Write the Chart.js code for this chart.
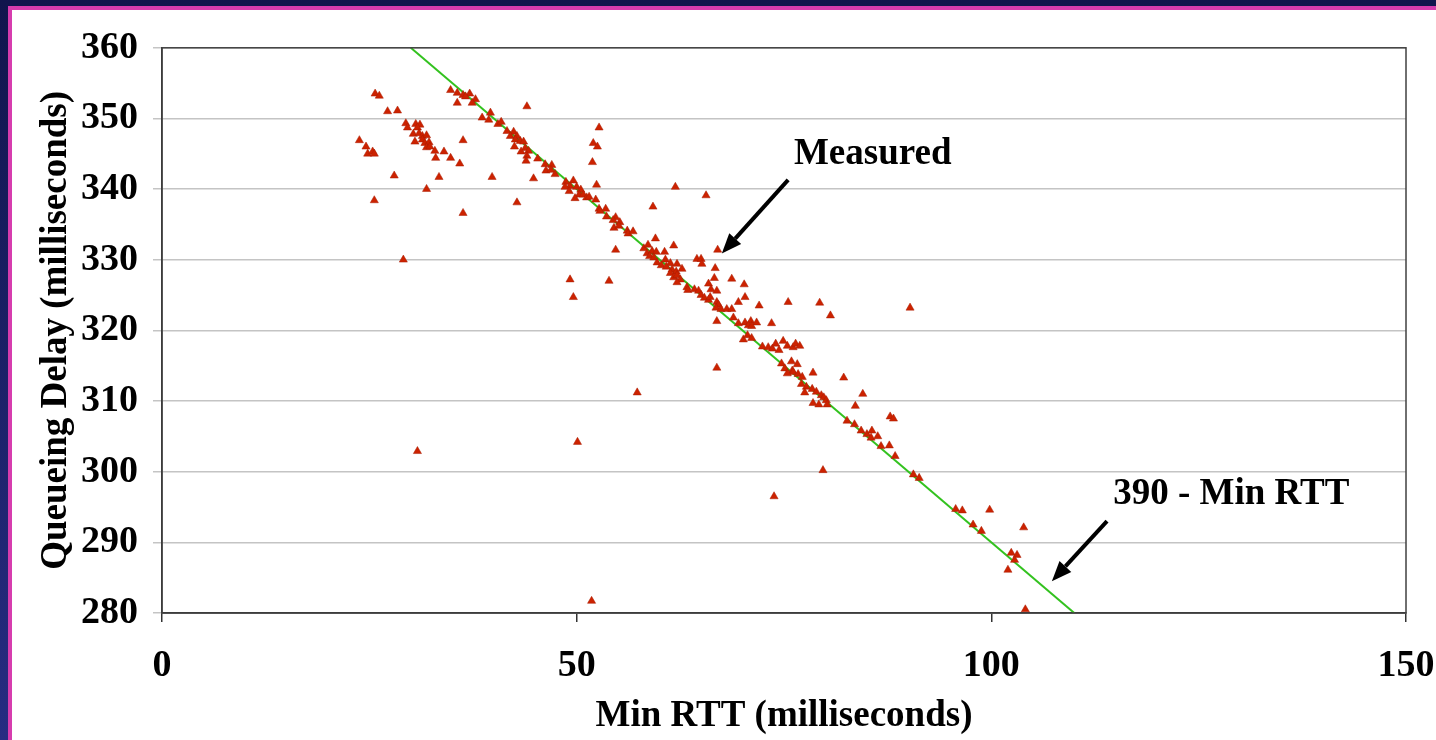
<!DOCTYPE html>
<html>
<head>
<meta charset="utf-8">
<title>Queueing Delay vs Min RTT</title>
<script src="https://cdn.jsdelivr.net/npm/chart.js@4.4.1/dist/chart.umd.min.js"></script>
<style>
  html, body { margin: 0; padding: 0; }
  body {
    width: 1436px; height: 740px; overflow: hidden; position: relative;
    background: linear-gradient(to bottom, #11154d, #272c82);
  }
  #frame {
    position: absolute; left: 8px; top: 6px; right: 0; bottom: 0;
    border-left: 4px solid #d63cae; border-top: 4px solid #d63cae;
    background: #fff;
  }
  #wrap { position: absolute; left: 0; top: 0; width: 1424px; height: 730px; }
</style>
</head>
<body>
<div id="frame"><div id="wrap"><canvas id="delayChart"></canvas></div></div>
<script>
const FONT = '"Liberation Serif", "Times New Roman", serif';

const xTitle = 'Min RTT (milliseconds)';
const yTitle = 'Queueing Delay (milliseconds)';

const measuredRtt = [
    25.7, 26.2, 27.2, 28.4, 29.4, 29.6, 30.6, 31.1, 30.8, 23.8,
    24.6, 24.8, 25.4, 25.6, 30.3, 31.0, 31.4, 31.9, 30.5, 31.4,
    31.7, 32.2, 31.9, 32.3, 32.9, 33.0, 34.0, 34.8, 35.9, 36.3,
    28.0, 33.4, 31.9, 25.6, 36.3, 29.1, 34.8, 35.6, 36.3, 37.1,
    37.8, 37.4, 35.6, 36.6, 44.0, 39.6, 38.6, 39.4, 40.5, 40.9,
    41.6, 42.4, 42.0, 42.8, 42.6, 43.2, 43.6, 42.5, 43.8, 43.3,
    44.2, 44.0, 43.9, 45.3, 46.2, 47.0, 46.3, 46.9, 47.4, 39.8,
    44.8, 52.7, 52.0, 52.5, 51.9, 52.4, 48.7, 49.6, 49.2, 48.6,
    49.1, 50.0, 50.5, 50.3, 50.8, 51.2, 51.5, 49.8, 52.3, 42.8,
    52.7, 53.5, 52.8, 53.6, 54.7, 54.4, 55.2, 54.5, 55.1, 56.1,
    56.2, 54.7, 49.2, 53.9, 56.8, 59.5, 61.7, 58.1, 58.6, 58.5,
    59.1, 59.6, 60.6, 58.8, 59.3, 59.7, 60.7, 61.3, 60.2, 60.8,
    62.1, 61.5, 62.0, 62.7, 61.3, 61.7, 62.1, 62.5, 62.1, 63.3,
    63.4, 64.5, 65.0, 65.1, 67.0, 66.7, 66.6, 68.7, 70.2, 65.9,
    66.2, 66.9, 64.2, 64.7, 65.0, 65.4, 65.9, 66.1, 66.9, 67.1,
    66.8, 67.4, 68.1, 68.7, 69.5, 70.3, 72.0, 75.5, 79.3, 80.6,
    66.9, 68.9, 69.5, 70.3, 71.0, 71.7, 70.7, 71.1, 73.5, 70.1,
    70.6, 71.1, 72.4, 73.1, 73.6, 74.0, 74.4, 74.9, 75.4, 76.1,
    76.4, 76.9, 66.9, 74.7, 75.1, 75.9, 76.6, 76.0, 76.1, 75.4,
    76.7, 77.2, 78.5, 77.1, 77.7, 78.4, 77.5, 78.9, 79.5, 79.8,
    80.1, 80.2, 78.5, 79.2, 82.2, 84.5, 83.6, 57.3, 90.2, 82.6,
    83.5, 84.3, 85.0, 85.6, 85.5, 86.3, 86.7, 87.7, 87.8, 88.2,
    88.4, 79.7, 73.8, 90.6, 91.3, 95.7, 96.5, 99.8, 97.8, 98.8,
    103.9, 102.4, 103.1, 102.8, 102.0, 104.1, 61.9, 65.6, 59.2, 30.8,
    50.1, 51.8, 49.6
];
const measuredDelay = [
    353.5, 353.2, 351.0, 351.1, 349.3, 348.7, 349.2, 349.1, 348.7, 346.9,
    346.0, 345.0, 345.3, 345.0, 347.8, 347.9, 347.5, 347.6, 346.7, 347.0,
    346.5, 346.6, 345.9, 346.0, 345.4, 344.4, 345.3, 344.4, 343.6, 346.9,
    341.9, 341.7, 340.0, 338.4, 336.6, 330.0, 354.0, 353.6, 353.3, 353.5,
    352.7, 352.2, 352.2, 353.1, 351.7, 350.8, 350.1, 349.8, 349.2, 349.5,
    348.2, 348.1, 347.5, 347.5, 347.0, 346.8, 346.7, 346.0, 345.8, 345.3,
    345.4, 344.7, 344.0, 344.3, 343.5, 343.4, 342.6, 342.7, 342.1, 341.7,
    341.5, 348.7, 346.5, 346.0, 343.8, 340.6, 341.0, 341.2, 340.4, 340.3,
    339.7, 340.3, 339.9, 339.2, 339.2, 338.8, 338.9, 338.7, 338.5, 338.1,
    337.2, 337.2, 336.9, 336.1, 336.0, 335.6, 335.3, 334.5, 334.8, 334.1,
    333.7, 331.4, 327.2, 327.0, 334.0, 333.0, 332.0, 331.6, 332.1, 330.9,
    331.2, 331.1, 331.1, 330.5, 330.3, 329.6, 330.0, 329.5, 329.2, 329.0,
    329.4, 328.6, 328.3, 328.7, 328.1, 327.5, 327.8, 327.2, 326.8, 326.1,
    325.7, 330.1, 330.1, 329.4, 331.4, 328.8, 327.4, 327.3, 326.5, 326.6,
    325.8, 325.6, 325.8, 325.6, 325.0, 324.6, 324.3, 324.7, 324.0, 323.6,
    323.2, 323.0, 323.0, 323.0, 324.0, 324.7, 323.5, 324.0, 323.9, 322.1,
    321.3, 321.8, 321.0, 321.1, 321.3, 321.1, 320.7, 320.6, 321.0, 318.7,
    319.3, 318.9, 317.7, 317.6, 317.4, 318.1, 317.2, 318.5, 317.8, 317.6,
    318.1, 317.8, 314.7, 315.3, 314.6, 315.6, 315.2, 314.3, 314.1, 313.9,
    313.8, 313.4, 314.0, 312.4, 312.0, 311.7, 311.2, 311.3, 310.8, 310.5,
    310.1, 309.5, 309.7, 309.5, 313.3, 311.0, 309.3, 311.2, 323.2, 307.2,
    306.7, 305.8, 305.3, 305.8, 304.8, 305.0, 303.6, 303.7, 307.8, 307.5,
    302.2, 300.2, 296.5, 299.6, 299.1, 294.7, 294.5, 294.6, 292.5, 291.6,
    292.1, 288.5, 288.2, 287.5, 286.1, 280.5, 340.3, 339.1, 337.5, 302.9,
    304.2, 281.7, 324.7
];

// reference line: 390 - Min RTT
const lineRtt = [30, 110];
const lineDelay = [360, 280];

// annotation text and arrows, in data units
const noteText = ['Measured', '390 - Min RTT'];
const noteRtt = [76.2, 114.7];
const noteDelay = [343.6, 295.4];
const arrowFrom = [[75.5, 341.3], [113.95, 293.0]];
const arrowTo = [[67.5, 330.9], [107.3, 284.5]];

function drawArrow(ctx, x0, y0, x1, y1) {
    const ang = Math.atan2(y1 - y0, x1 - x0);
    const headLen = 20, headW = 8;
    const bx = x1 - headLen * Math.cos(ang);
    const by = y1 - headLen * Math.sin(ang);
    ctx.lineWidth = 4;
    ctx.strokeStyle = '#000';
    ctx.beginPath();
    ctx.moveTo(x0, y0);
    ctx.lineTo(bx, by);
    ctx.stroke();
    ctx.beginPath();
    ctx.moveTo(x1, y1);
    ctx.lineTo(bx + headW * Math.sin(ang), by - headW * Math.cos(ang));
    ctx.lineTo(bx - headW * Math.sin(ang), by + headW * Math.cos(ang));
    ctx.closePath();
    ctx.fill();
}

const frameAndNotes = {
    id: 'frameAndNotes',
    afterDatasetsDraw(chart) {
        const { ctx, chartArea: a, scales: { x, y } } = chart;
        ctx.save();
        ctx.strokeStyle = '#404040';
        ctx.lineWidth = 1.5;
        ctx.strokeRect(a.left, a.top, a.right - a.left, a.bottom - a.top);

        ctx.fillStyle = '#000';
        ctx.font = 'bold 37px ' + FONT;
        ctx.textBaseline = 'alphabetic';
        ctx.textAlign = 'left';
        noteText.forEach((t, i) => {
            ctx.fillText(t, x.getPixelForValue(noteRtt[i]), y.getPixelForValue(noteDelay[i]));
        });
        arrowFrom.forEach((f, i) => {
            drawArrow(ctx,
                x.getPixelForValue(f[0]), y.getPixelForValue(f[1]),
                x.getPixelForValue(arrowTo[i][0]), y.getPixelForValue(arrowTo[i][1]));
        });
        ctx.restore();
    }
};

const tickFont = { family: FONT, size: 38, weight: 'bold' };
const titleFont = { family: FONT, size: 37, weight: 'bold' };

new Chart(document.getElementById('delayChart'), {
    type: 'scatter',
    data: {
        datasets: [{
            label: 'Measured',
            data: measuredRtt.map((v, i) => ({ x: v, y: measuredDelay[i] })),
            pointStyle: 'triangle',
            pointRadius: 4.7,
            backgroundColor: '#cc2200',
            borderColor: '#a81c00',
            borderWidth: 0.5
        }, {
            label: '390 - Min RTT',
            data: lineRtt.map((v, i) => ({ x: v, y: lineDelay[i] })),
            showLine: true,
            borderColor: '#33c21f',
            borderWidth: 2,
            pointRadius: 0
        }]
    },
    options: {
        responsive: true,
        maintainAspectRatio: false,
        animation: false,
        layout: { padding: { top: 37, right: 30, left: 0, bottom: 0 } },
        scales: {
            x: {
                type: 'linear',
                min: 0,
                max: 150,
                ticks: { stepSize: 50, color: '#000', font: tickFont, padding: 21, maxRotation: 0 },
                grid: { drawOnChartArea: false, color: '#333', tickLength: 9, lineWidth: 1.5 },
                border: { color: '#333', width: 1.5 },
                title: { display: true, text: xTitle, color: '#000', font: titleFont, padding: { top: 0, bottom: 1 } },
                afterFit(scale) {
                    scale.height = 127;
                    scale.paddingLeft = 0;
                    scale.paddingRight = 0;
                }
            },
            y: {
                min: 280,
                max: 360,
                ticks: { stepSize: 10, color: '#000', font: tickFont, padding: 15 },
                grid: { color: '#c4c4c4', tickLength: 9, lineWidth: 1.5 },
                border: { color: '#333', width: 1.5 },
                title: { display: true, text: yTitle, color: '#000', font: titleFont, padding: { top: 22, bottom: 0 } },
                afterFit(scale) { scale.width = 150; }
            }
        },
        plugins: {
            legend: { display: false },
            tooltip: { enabled: false }
        }
    },
    plugins: [frameAndNotes]
});
</script>
</body>
</html>
